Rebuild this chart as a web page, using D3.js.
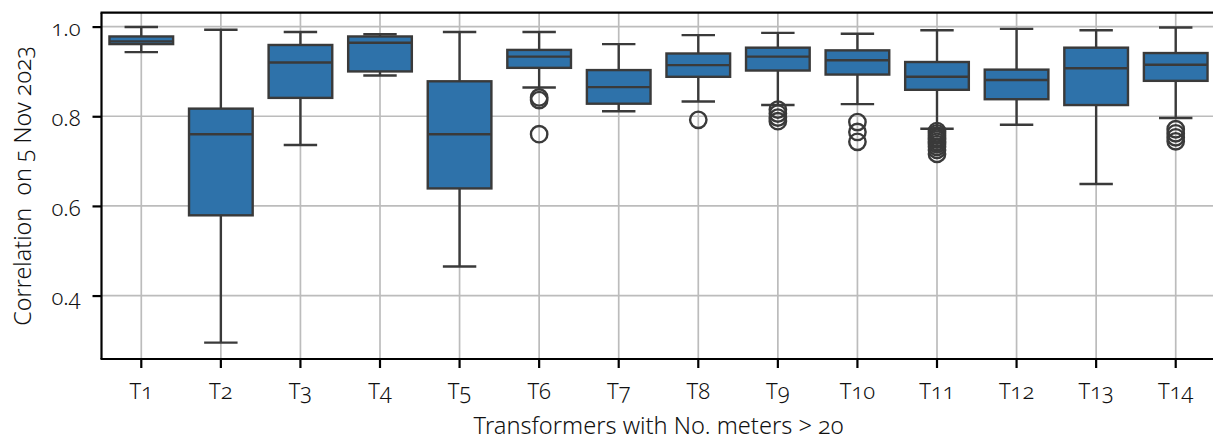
<!DOCTYPE html>
<html>
<head>
<meta charset="utf-8">
<script src="https://cdn.jsdelivr.net/npm/d3@7"></script>
<style>
  html, body { margin: 0; padding: 0; background: #ffffff; }
  svg { display: block; }
  text { font-family: "Noto Sans", "Open Sans", sans-serif; font-weight: 300; fill: #111; font-variant-numeric: oldstyle-nums; }
</style>
</head>
<body>
<svg id="chart" width="1213" height="440"></svg>
<script>
// Correlation distribution per transformer (boxplot summary statistics)
const categories = ["T1","T2","T3","T4","T5","T6","T7","T8","T9","T10","T11","T12","T13","T14"];
const whiskerLow  = [0.943, 0.295, 0.736, 0.891, 0.465, 0.864, 0.811, 0.833, 0.825, 0.827, 0.772, 0.781, 0.649, 0.796];
const q1          = [0.961, 0.579, 0.841, 0.900, 0.639, 0.908, 0.828, 0.888, 0.902, 0.893, 0.859, 0.838, 0.825, 0.879];
const medians     = [0.967, 0.760, 0.920, 0.964, 0.760, 0.933, 0.865, 0.914, 0.933, 0.925, 0.888, 0.881, 0.907, 0.915];
const q3          = [0.978, 0.817, 0.959, 0.978, 0.878, 0.948, 0.903, 0.940, 0.953, 0.947, 0.921, 0.904, 0.953, 0.941];
const whiskerHigh = [0.999, 0.993, 0.988, 0.983, 0.988, 0.988, 0.961, 0.981, 0.986, 0.984, 0.992, 0.995, 0.992, 0.998];
const outliers = [
  [],
  [],
  [],
  [],
  [],
  [0.842, 0.836, 0.760],
  [],
  [0.792],
  [0.815, 0.806, 0.797, 0.789],
  [0.787, 0.765, 0.743],
  [0.767, 0.762, 0.757, 0.752, 0.748, 0.743, 0.738, 0.732, 0.725, 0.716],
  [],
  [],
  [0.771, 0.762, 0.753, 0.744]
];
const yTicks = [0.4, 0.6, 0.8, 1.0];
const xLabel = "Transformers with No. meters > 20";
const yLabel = "Correlation  on 5 Nov 2023";

const svg = d3.select("#chart");
const plot = { left: 101.5, top: 12.7, right: 1215.5, bottom: 359 };

const x = d3.scaleBand().domain(categories).range([plot.left, plot.right]).paddingInner(0).paddingOuter(0);
const y = d3.scaleLinear().domain([0.2585, 1.031]).range([plot.bottom, plot.top]);

const gridColor = "#bcbcbc";
const lineColor = "#3a3a3a";
const boxFill = "#2e72aa";
const stroke = 2.4;

// grid
const grid = svg.append("g");
grid.selectAll("line.h").data(yTicks).join("line")
  .attr("x1", plot.left).attr("x2", plot.right)
  .attr("y1", d => y(d)).attr("y2", d => y(d))
  .attr("stroke", gridColor).attr("stroke-width", 1.7);
grid.selectAll("line.v").data(categories).join("line")
  .attr("x1", d => x(d) + x.bandwidth() / 2).attr("x2", d => x(d) + x.bandwidth() / 2)
  .attr("y1", plot.top).attr("y2", plot.bottom)
  .attr("stroke", gridColor).attr("stroke-width", 1.7);

// boxes
const bw = x.bandwidth() * 0.8;
const capW = x.bandwidth() * 0.42;
const groups = svg.append("g").selectAll("g").data(categories).join("g")
  .attr("transform", d => `translate(${x(d) + x.bandwidth() / 2},0)`);

groups.append("line")
  .attr("x1", 0).attr("x2", 0)
  .attr("y1", (d, i) => y(q3[i])).attr("y2", (d, i) => y(whiskerHigh[i]))
  .attr("stroke", lineColor).attr("stroke-width", stroke);
groups.append("line")
  .attr("x1", 0).attr("x2", 0)
  .attr("y1", (d, i) => y(q1[i])).attr("y2", (d, i) => y(whiskerLow[i]))
  .attr("stroke", lineColor).attr("stroke-width", stroke);
groups.append("line")
  .attr("x1", -capW / 2).attr("x2", capW / 2)
  .attr("y1", (d, i) => y(whiskerHigh[i])).attr("y2", (d, i) => y(whiskerHigh[i]))
  .attr("stroke", lineColor).attr("stroke-width", stroke);
groups.append("line")
  .attr("x1", -capW / 2).attr("x2", capW / 2)
  .attr("y1", (d, i) => y(whiskerLow[i])).attr("y2", (d, i) => y(whiskerLow[i]))
  .attr("stroke", lineColor).attr("stroke-width", stroke);
groups.append("rect")
  .attr("x", -bw / 2).attr("width", bw)
  .attr("y", (d, i) => y(q3[i])).attr("height", (d, i) => y(q1[i]) - y(q3[i]))
  .attr("fill", boxFill).attr("stroke", lineColor).attr("stroke-width", stroke);
groups.append("line")
  .attr("x1", -bw / 2).attr("x2", bw / 2)
  .attr("y1", (d, i) => y(medians[i])).attr("y2", (d, i) => y(medians[i]))
  .attr("stroke", lineColor).attr("stroke-width", stroke);
groups.each(function(d, i) {
  d3.select(this).selectAll("circle").data(outliers[i]).join("circle")
    .attr("cx", 0).attr("cy", v => y(v)).attr("r", 8.2)
    .attr("fill", "none").attr("stroke", lineColor).attr("stroke-width", stroke);
});

// axes
const xAxis = svg.append("g").attr("transform", `translate(0,${plot.bottom})`)
  .call(d3.axisBottom(x).tickSize(9).tickSizeOuter(0).tickPadding(15));
const yAxis = svg.append("g").attr("transform", `translate(${plot.left},0)`)
  .call(d3.axisLeft(y).tickValues(yTicks).tickFormat(d3.format(".1f")).tickSize(9).tickSizeOuter(0).tickPadding(12));
[xAxis, yAxis].forEach(a => {
  a.select(".domain").remove();
  a.selectAll(".tick line").attr("stroke", "#000").attr("stroke-width", 2.2);
  a.selectAll(".tick text").attr("font-size", 22).attr("font-family", null).style("fill", "#111");
});
yAxis.selectAll(".tick text").attr("dy", "0.42em");

// spines
svg.append("line").attr("x1", plot.left).attr("x2", plot.left).attr("y1", plot.top).attr("y2", plot.bottom)
  .attr("stroke", "#000").attr("stroke-width", 2.2);
svg.append("line").attr("x1", plot.left - 1).attr("x2", plot.right).attr("y1", plot.bottom).attr("y2", plot.bottom)
  .attr("stroke", "#000").attr("stroke-width", 2.2);
svg.append("line").attr("x1", plot.left - 1).attr("x2", plot.right).attr("y1", plot.top).attr("y2", plot.top)
  .attr("stroke", "#000").attr("stroke-width", 2.2);
svg.append("line").attr("x1", plot.right).attr("x2", plot.right).attr("y1", plot.top).attr("y2", plot.bottom)
  .attr("stroke", "#000").attr("stroke-width", 2.2);

// axis titles
svg.append("text")
  .attr("x", (plot.left + plot.right) / 2).attr("y", 434)
  .attr("text-anchor", "middle").attr("font-size", 23.6)
  .text(xLabel);
svg.append("text")
  .attr("transform", `translate(31,${(plot.top + plot.bottom) / 2}) rotate(-90)`)
  .attr("text-anchor", "middle").attr("font-size", 23.3)
  .style("white-space", "pre")
  .text(yLabel);
</script>
</body>
</html>
